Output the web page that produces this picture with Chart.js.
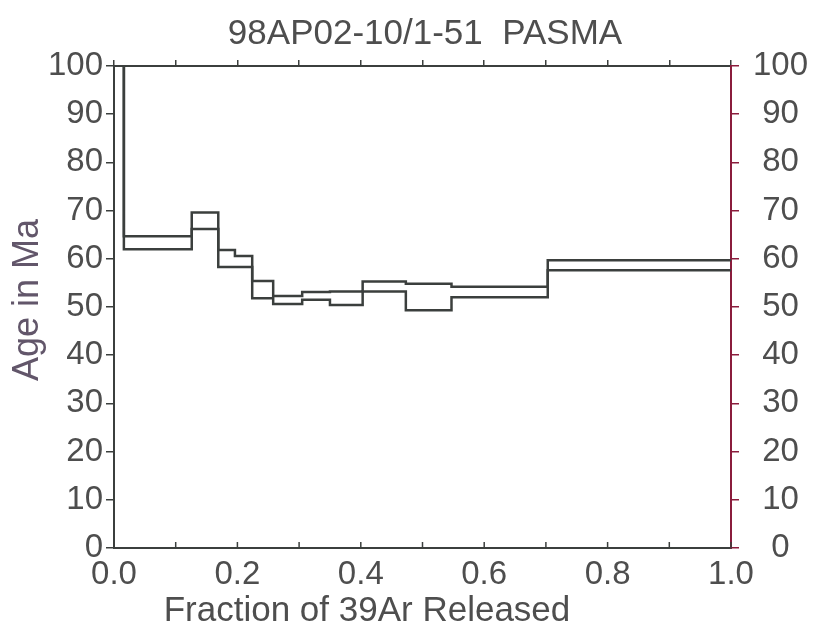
<!DOCTYPE html>
<html>
<head>
<meta charset="utf-8">
<title>98AP02-10/1-51 PASMA</title>
<script src="https://cdn.jsdelivr.net/npm/chart.js"></script>
<style>
  html, body { margin: 0; padding: 0; background: #fff; }
  #wrap { width: 825px; height: 635px; }
</style>
</head>
<body>
<div id="wrap"><canvas id="chart" width="825" height="635"></canvas></div>
<script>
// age spectrum: step edges (fraction of 39Ar) and age bounds per step (Ma)
const stepEdges = [0, 0.016, 0.126, 0.169, 0.196, 0.224, 0.258, 0.305, 0.350, 0.403, 0.473, 0.547, 0.703, 1.0];
const upperAge = [160, 64.7, 69.6, 61.8, 60.6, 55.4, 52.3, 53.1, 53.2, 55.3, 54.8, 54.2, 59.7];
const lowerAge = [150, 62.0, 66.2, 58.3, 58.3, 51.8, 50.6, 51.5, 50.4, 53.2, 49.3, 52.0, 57.6];
const xTicks = [0, 0.1, 0.2, 0.3, 0.4, 0.5, 0.6, 0.7, 0.8, 0.9, 1.0];
const yTicks = [0, 10, 20, 30, 40, 50, 60, 70, 80, 90, 100];

const titleText = '98AP02-10/1-51  PASMA';
const xTitleText = 'Fraction of 39Ar Released';
const yTitleText = 'Age in Ma';

const ink = '#3b3f3d';
const textGrey = '#4e4e4e';
const maroon = '#8a1c3c';
const font = 'Liberation Sans';

function stepPoints(vals) {
  const pts = vals.map((v, i) => ({ x: stepEdges[i], y: v }));
  pts.push({ x: stepEdges[stepEdges.length - 1], y: vals[vals.length - 1] });
  return pts;
}

// titles are placed by hand (x title sits left of centre in the original),
// bottom ticks point into the plot
const decorations = {
  id: 'decorations',
  afterDraw(chart) {
    const { ctx, chartArea, scales } = chart;
    ctx.save();
    ctx.strokeStyle = ink;
    ctx.lineWidth = 1.5;
    xTicks.forEach(v => {
      const px = scales.x.getPixelForValue(v);
      ctx.beginPath();
      ctx.moveTo(px, chartArea.bottom);
      ctx.lineTo(px, chartArea.bottom - 6);
      ctx.stroke();
    });

    ctx.fillStyle = textGrey;
    ctx.textAlign = 'center';
    ctx.textBaseline = 'middle';
    ctx.font = `35px "${font}"`;
    ctx.fillText(titleText, 425, 34);

    ctx.font = `35px "${font}"`;
    ctx.fillText(xTitleText, 367, 611);

    ctx.translate(28, 300);
    ctx.rotate(-Math.PI / 2);
    ctx.fillStyle = '#62566a';
    ctx.font = `36px "${font}"`;
    ctx.fillText(yTitleText, 0, 0);
    ctx.restore();
  }
};

new Chart(document.getElementById('chart'), {
  type: 'line',
  data: {
    datasets: [
      { label: 'upper', data: stepPoints(upperAge), stepped: 'before', borderColor: ink, borderWidth: 2.5, pointRadius: 0, fill: false, yAxisID: 'y' },
      { label: 'lower', data: stepPoints(lowerAge), stepped: 'before', borderColor: ink, borderWidth: 2.5, pointRadius: 0, fill: false, yAxisID: 'y' }
    ]
  },
  options: {
    responsive: false,
    animation: false,
    layout: { padding: { top: 66 } },
    plugins: {
      legend: { display: false },
      tooltip: { enabled: false },
      title: { display: false }
    },
    scales: {
      x: {
        type: 'linear', position: 'bottom', min: 0, max: 1,
        afterBuildTicks: s => { s.ticks = xTicks.map(v => ({ value: v })); },
        ticks: {
          color: textGrey, padding: 7, maxRotation: 0,
          font: { family: font, size: 33 },
          callback: v => (Math.round(v * 10) % 2 === 0 ? v.toFixed(1) : '')
        },
        grid: { drawOnChartArea: false, tickLength: 0, color: ink },
        border: { color: ink, width: 2 },
        afterFit: s => { s.height = 87; }
      },
      xTop: {
        type: 'linear', position: 'top', min: 0, max: 1,
        afterBuildTicks: s => { s.ticks = xTicks.map(v => ({ value: v })); },
        ticks: { display: false },
        grid: { drawOnChartArea: false, tickLength: 6, color: ink, lineWidth: 1.5 },
        border: { color: ink, width: 2 },
        afterFit: s => { s.height = 0; }
      },
      y: {
        type: 'linear', position: 'left', min: 0, max: 100,
        afterBuildTicks: s => { s.ticks = yTicks.map(v => ({ value: v })); },
        ticks: { color: textGrey, padding: 3, font: { family: font, size: 33 } },
        grid: { drawOnChartArea: false, tickLength: 8, color: ink, lineWidth: 1.5 },
        border: { color: ink, width: 2 },
        afterFit: s => { s.width = 114; }
      },
      yRight: {
        type: 'linear', position: 'right', min: 0, max: 100,
        afterBuildTicks: s => { s.ticks = yTicks.map(v => ({ value: v })); },
        ticks: { color: textGrey, padding: 14, crossAlign: 'center', font: { family: font, size: 33 } },
        grid: { drawOnChartArea: false, tickLength: 8, color: maroon, lineWidth: 1.5 },
        border: { color: maroon, width: 2 },
        afterFit: s => { s.width = 94; }
      }
    }
  },
  plugins: [decorations]
});
</script>
</body>
</html>
